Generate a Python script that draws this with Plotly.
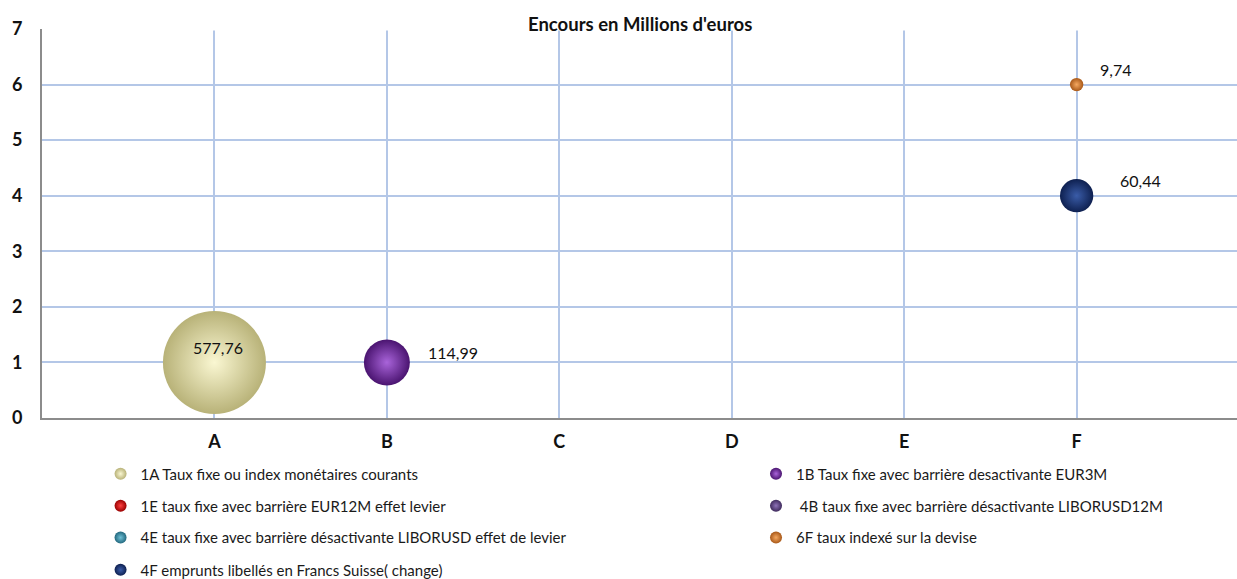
import plotly.graph_objects as go

# Catégories de l'axe horizontal
categories = ["A", "B", "C", "D", "E", "F"]

# Séries : nom, catégorie, niveau de risque, encours (M€)
series_names = [
    "1A Taux fixe ou index monétaires courants",
    "1B Taux fixe avec barrière desactivante EUR3M",
    "1E taux fixe avec barrière EUR12M effet levier",
    " 4B taux fixe avec barrière désactivante LIBORUSD12M",
    "4E taux fixe avec barrière désactivante LIBORUSD effet de levier",
    "6F taux indexé sur la devise",
    "4F emprunts libellés en Francs Suisse( change)",
]
series_cat = ["A", "B", "E", "B", "E", "F", "F"]
series_level = [1, 1, 1, 4, 4, 6, 4]
series_amount = [577.76, 114.99, None, None, None, 9.74, 60.44]

# Couleurs de bord (sombre) et de centre (clair) pour l'effet sphère
edge_colors = ["#B8B278", "#4A1470", "#990000", "#3E2A5C", "#23687E", "#A85818", "#0E2050"]
center_colors = ["#FAF7D2", "#A964DA", "#FF4040", "#8E72B8", "#6EC0D6", "#F5A860", "#3A5CA8"]

# Position des étiquettes de valeur (décalage en pixels)
label_shift = [(4, 15), (66, 10), (0, 0), (0, 0), (0, 0), (39, 15), (64, 15)]

# Emplacement de chaque entrée de légende (coordonnées papier)
legend_pos = [
    (0.049, -0.144), (0.5975, -0.144),
    (0.049, -0.226), (0.5975, -0.226),
    (0.049, -0.308), (0.5975, -0.308),
    (0.049, -0.391),
]

max_amount = max(v for v in series_amount if v is not None)
max_diameter = 103
sizeref = 2.0 * max_amount / max_diameter ** 2

font_family = "Lato, 'Open Sans', sans-serif"

fig = go.Figure()
layout_legends = {}
annotations = []

for i, name in enumerate(series_names):
    legend_id = "legend" if i == 0 else f"legend{i + 1}"
    amount = series_amount[i]
    if amount is not None:
        xs = [categories.index(series_cat[i]) + 1]
        ys = [series_level[i]]
        sizes = [amount]
    else:
        xs, ys, sizes = [None], [None], [1]
    fig.add_trace(go.Scatter(
        x=xs, y=ys, mode="markers", name=name,
        legend=legend_id, showlegend=True,
        marker=dict(
            size=sizes, sizemode="area", sizeref=sizeref,
            color=edge_colors[i], opacity=1,
            gradient=dict(type="radial", color=center_colors[i]),
            line=dict(width=0),
        ),
        hovertemplate="%{x}<extra></extra>",
    ))
    lx, ly = legend_pos[i]
    layout_legends[legend_id] = dict(
        x=lx, y=ly, xanchor="left", yanchor="middle",
        orientation="h", itemsizing="constant", itemwidth=30,
        bgcolor="rgba(0,0,0,0)",
        font=dict(family=font_family, size=15, color="#1a1a1a"),
    )
    if amount is not None:
        dx, dy = label_shift[i]
        annotations.append(dict(
            x=xs[0], y=ys[0], xref="x", yref="y",
            text=f"{amount:.2f}".replace(".", ","),
            showarrow=False, xshift=dx, yshift=dy,
            font=dict(family=font_family, size=16, color="#111111"),
        ))

# Titre
annotations.append(dict(
    x=0.5, y=1.0, xref="paper", yref="paper", yanchor="middle", yshift=5,
    text="<b>Encours en Millions d'euros</b>", showarrow=False,
    font=dict(family=font_family, size=18.5, color="#111111"),
))

fig.update_layout(
    width=1237, height=579,
    margin=dict(l=42, r=0, t=29, b=161, autoexpand=False),
    paper_bgcolor="white", plot_bgcolor="white",
    showlegend=True,
    annotations=annotations,
    **layout_legends,
)

fig.update_xaxes(
    range=[0, 6.93],
    tickvals=list(range(1, len(categories) + 1)),
    ticktext=[f"<b>{c}</b>" for c in categories],
    showgrid=True, gridcolor="#B4C7E7", gridwidth=1.5,
    showline=True, linecolor="#8C8C8C", linewidth=2,
    zeroline=False, ticks="", ticklabelstandoff=6,
    tickfont=dict(family=font_family, size=18, color="#111111"),
)
fig.update_yaxes(
    range=[0, 7],
    tickvals=list(range(0, 8)),
    ticktext=[f"<b>{v}</b>" for v in range(0, 8)],
    showgrid=True, gridcolor="#B4C7E7", gridwidth=1.5,
    showline=True, linecolor="#8C8C8C", linewidth=2,
    zeroline=False, ticks="", ticklabelstandoff=14,
    tickfont=dict(family=font_family, size=18, color="#111111"),
)

# Masque la ligne de grille confondue avec le bord supérieur
fig.add_shape(type="line", xref="paper", yref="paper", x0=0.002, x1=1, y0=1, y1=1,
              line=dict(color="white", width=3), layer="above")

fig.write_html("out.html")
